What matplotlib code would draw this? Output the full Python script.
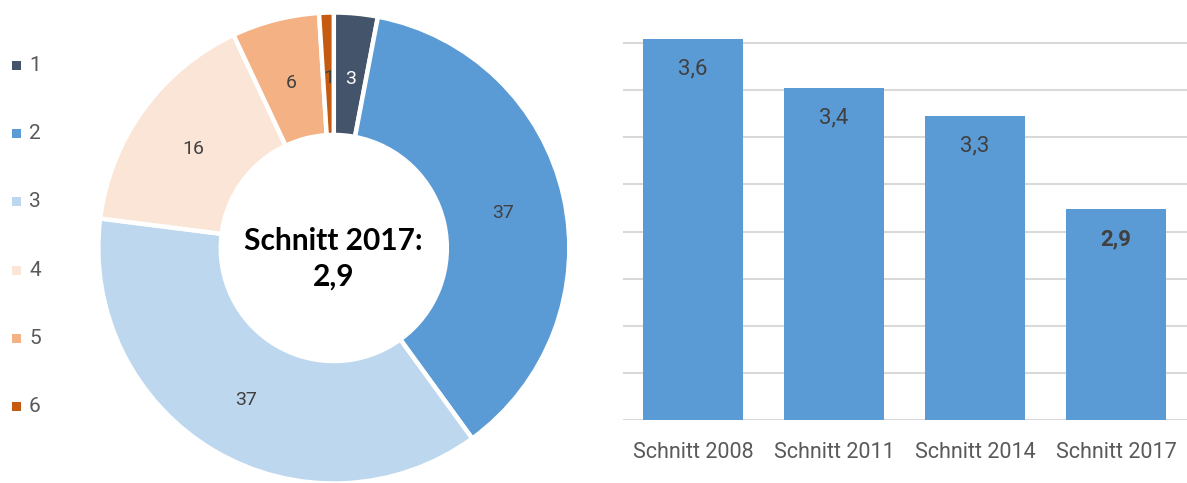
import matplotlib
matplotlib.use("Agg")
import matplotlib.pyplot as plt
from matplotlib.patches import Rectangle
import numpy as np

# ---- data ----
grades = ["1", "2", "3", "4", "5", "6"]
grade_counts = [3, 37, 37, 16, 6, 1]
grade_colors = ["#44546A", "#5B9BD5", "#BDD7EE", "#FBE5D6", "#F4B183", "#C55A11"]
center_text = "Schnitt 2017:\n2,9"

bar_categories = ["Schnitt 2008", "Schnitt 2011", "Schnitt 2014", "Schnitt 2017"]
bar_values = [3.617, 3.41, 3.29, 2.895]
bar_labels = ["3,6", "3,4", "3,3", "2,9"]

W, H = 1187, 483
fig = plt.figure(figsize=(W / 100, H / 100), dpi=100)
fig.patch.set_facecolor("white")

FONT = "Roboto"
GREY = "#595959"
DARK = "#404040"

# ---- donut ----
cx, cy, r = 333.8, 235, 235.5
axd = fig.add_axes([(cx - r) / W, (cy - r) / H, 2 * r / W, 2 * r / H])
wedges, _ = axd.pie(grade_counts, colors=grade_colors, startangle=90, counterclock=False,
                    radius=1.0, wedgeprops=dict(width=0.52, edgecolor="white", linewidth=3.2))
axd.set_xlim(-1, 1)
axd.set_ylim(-1, 1)
axd.set_aspect("equal")
axd.axis("off")

for i, (cnt, w) in enumerate(zip(grade_counts, wedges)):
    ang = np.deg2rad((w.theta1 + w.theta2) / 2)
    rr = 0.735
    col = "white" if i == 0 else DARK
    axd.text(rr * np.cos(ang), rr * np.sin(ang) - 0.012, str(cnt), ha="center", va="center",
             fontsize=14, color=col, family=FONT)

axd.text(0, -0.045, center_text, ha="center", va="center", fontsize=21.5, fontweight="bold",
         color="black", family="Lato", linespacing=1.35)

# legend (manual)
leg_y0 = 65.3
leg_dy = 68.3
for i, (g, c) in enumerate(zip(grades, grade_colors)):
    yp = H - (leg_y0 + i * leg_dy)
    fig.patches.append(Rectangle((12 / W, (yp - 4.5) / H), 9 / W, 9 / H, transform=fig.transFigure,
                                 facecolor=c, edgecolor="none"))
    fig.text(29 / W, yp / H, g, ha="left", va="center", fontsize=15, color=GREY, family=FONT)

# ---- bar chart ----
left, right, bottom_px, top_px = 622.5, 1186.5, 420, 37
axb = fig.add_axes([left / W, (H - bottom_px) / H, (right - left) / W, (bottom_px - top_px) / H])
x = np.arange(len(bar_categories))
axb.bar(x, bar_values, width=0.705, color="#5B9BD5", zorder=3)
axb.set_xlim(-0.5, len(bar_categories) - 0.5)
axb.set_ylim(2.0, 2.0 + (bottom_px - top_px) / 235.5)
axb.set_yticks(np.arange(2.0, 3.61, 0.2))
axb.yaxis.grid(True, color="#D9D9D9", linewidth=1.5, zorder=0)
axb.set_yticklabels([])
axb.tick_params(axis="y", length=0)
for s in axb.spines.values():
    s.set_visible(False)
axb.set_xticks(x)
axb.set_xticklabels(bar_categories, fontsize=15.5, color=GREY, family=FONT)
axb.tick_params(axis="x", length=0, pad=16)
for i, (v, lab) in enumerate(zip(bar_values, bar_labels)):
    bold = i == len(bar_values) - 1
    axb.annotate(lab, (x[i], v), xytext=(0, -21.6), textcoords="offset points", ha="center",
                 va="center", fontsize=16, color=DARK, family=FONT,
                 fontweight="bold" if bold else "normal")

fig.savefig("out.png", dpi=100)
